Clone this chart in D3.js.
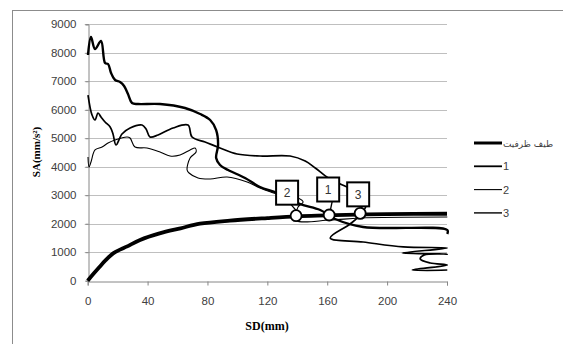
<!DOCTYPE html>
<html>
<head>
<meta charset="utf-8">
<script src="https://cdn.jsdelivr.net/npm/d3@7"></script>
<style>
  body{margin:0;background:#fff}
  svg{display:block}
</style>
</head>
<body>
<svg id="chart" width="563" height="344"></svg>
<script>
// axis ticks
const xTicks = [0, 40, 80, 120, 160, 200, 240];
const yTicks = [0, 1000, 2000, 3000, 4000, 5000, 6000, 7000, 8000, 9000];

// legend names
const seriesNames = ['طیف ظرفیت', '1', '2', '3'];

// capacity spectrum [SD, SA]
const capacity = [[0,0],[4,250],[8,490],[12,720],[17,960],[22,1100],[26,1195],[35,1430],[48,1660],
  [62,1840],[75,2000],[95,2110],[120,2200],[140,2260],[160,2290],[180,2320],[200,2335],[240,2350]];

// demand spectrum 1
const series1 = [[0.2,7922],[2.2,8553],[4.9,8132],[8.9,8413],[11.6,7640],[13.6,7606],[15.6,7290],
  [18.3,7044],[21.6,6974],[24.3,6834],[26.9,6553],[29.6,6237],[33.6,6202],[48.3,6202],[65,6062],
  [75.1,5851],[81.8,5640],[85.8,5289],[87.1,4763],[85.8,4306],[88.4,4061],[93.8,3886],[105.1,3605],
  [115.1,3289],[126.5,3078],[141.9,2692],[155.3,2482],[165.3,2166],[184,1885],[240.2,1780],[240.2,1640]];

// demand spectrum 2
const series2 = [[0.2,4342],[0.9,3991],[2.2,4166],[4.9,4588],[9.6,4693],[13.6,4833],[18.2,4939],
  [26.3,5044],[28.3,5009],[31.6,4693],[39.6,4658],[48.3,4517],[55,4377],[61.7,4412],[68.4,4588],
  [71.7,4658],[72.4,4517],[68.4,4307],[66.4,3886],[67.7,3780],[73.7,3605],[81.8,3570],[93.1,3640],
  [106.5,3465],[115.1,3254],[126.5,3043],[140.5,2903],[143.9,2762],[140.5,2587],[139.2,2130],
  [162,2130],[182,2201],[240.2,2236]];

// demand spectrum 3
const series3 = [[0.2,6518],[2.9,5816],[4.9,5640],[6.9,5886],[8.9,5746],[11.6,5570],[15,5395],
  [16.9,5149],[18.9,4763],[22.9,5149],[28.3,5360],[36.3,5465],[39,5325],[41.6,5044],[47,5114],
  [57,5360],[67,5465],[69.7,5044],[78.4,4868],[88.4,4658],[99.8,4447],[115.1,4377],[135.2,4377],
  [145.3,4201],[152,3956],[160.7,3605],[168.7,3394],[176.7,3184],[186,2692],[182.7,2341],
  [175.3,1991],[162,1500],[184,1359],[210.8,1184],[240.2,1148],[210.1,972],[240.2,937],
  [224.8,902],[222.1,762],[228.8,621],[240.2,551],[216.8,376],[240.2,376]];

// performance points
const pointLabels = ['2', '1', '3'];
const pointSD = [139.2, 161.3, 182];
const pointSA = [2282, 2306, 2364];

const svg = d3.select('#chart');
const margin = { top: 24.3, left: 87.7, right: 116, bottom: 63.3 };
const W = 563, H = 344;

const x = d3.scaleLinear().domain([0, 240]).range([margin.left, W - margin.right]);
const y = d3.scaleLinear().domain([0, 9000]).range([H - margin.bottom, margin.top]);

// chart border
svg.append('rect').attr('x', 12.5).attr('y', 10.5).attr('width', 600).attr('height', 400)
  .attr('fill', 'none').attr('stroke', '#8c8c8c');

// grid
svg.append('g').selectAll('line').data(yTicks.slice(1)).enter().append('line')
  .attr('x1', x(0) - 3).attr('x2', x(240))
  .attr('y1', d => Math.round(y(d)) + 0.5).attr('y2', d => Math.round(y(d)) + 0.5)
  .attr('stroke', '#bfbfbf');

// axes
const yAxis = svg.append('g').attr('transform', `translate(${Math.round(x(0)) + 0.5},0)`)
  .call(d3.axisLeft(y).tickValues(yTicks).tickSize(3).tickPadding(9).tickFormat(d3.format('d')));
const xAxis = svg.append('g').attr('transform', `translate(0,${Math.round(y(0)) + 0.5})`)
  .call(d3.axisBottom(x).tickValues(xTicks).tickSize(4).tickPadding(11).tickFormat(d3.format('d')));
[xAxis, yAxis].forEach(a => {
  a.selectAll('.domain').attr('stroke', '#868686');
  a.selectAll('line').attr('stroke', '#868686');
  a.selectAll('text').attr('fill', '#404040')
    .style('font-family', '"Liberation Sans", Arial, sans-serif').style('font-size', '11.5px');
});

// axis titles
svg.append('text').attr('transform', 'translate(40,152) rotate(-90)').attr('text-anchor', 'middle')
  .style('font-family', '"Liberation Serif", serif').style('font-weight', 'bold').style('font-size', '11px')
  .text('SA(mm/s²)');
svg.append('text').attr('x', 267).attr('y', 330).attr('text-anchor', 'middle')
  .style('font-family', '"Liberation Serif", serif').style('font-weight', 'bold').style('font-size', '12px')
  .text('SD(mm)');

const line = d3.line().x(d => x(d[0])).y(d => y(d[1])).curve(d3.curveCatmullRom.alpha(0.5));
const widths = [3.8, 2.4, 1.1, 1.7];
const all = [capacity, series1, series2, series3];

[series2, series3, series1, capacity].forEach(s => {
  svg.append('path').datum(s).attr('d', line).attr('fill', 'none')
    .attr('stroke', '#000').attr('stroke-width', widths[all.indexOf(s)])
    .attr('stroke-linejoin', 'round');
});

// performance point callouts
const boxOff = [[-9, -23], [-1, -25.5], [-2, -19]];
const boxW = 22, boxH = 24;
pointLabels.forEach((lab, i) => {
  const cx = x(pointSD[i]), cy = y(pointSA[i]);
  const bx = cx + boxOff[i][0], by = cy + boxOff[i][1];
  svg.append('line').attr('x1', bx + 4).attr('y1', by + boxH / 2)
    .attr('x2', cx + 1).attr('y2', cy - 4).attr('stroke', '#000').attr('stroke-width', 1.3);
  svg.append('circle').attr('cx', cx).attr('cy', cy).attr('r', 5.5)
    .attr('fill', '#fff').attr('stroke', '#000').attr('stroke-width', 1.8);
  svg.append('rect').attr('x', bx - boxW / 2).attr('y', by - boxH / 2)
    .attr('width', boxW).attr('height', boxH)
    .attr('fill', '#fff').attr('stroke', '#000').attr('stroke-width', 2);
  svg.append('text').attr('x', bx).attr('y', by + 4.5).attr('text-anchor', 'middle')
    .attr('fill', '#333').style('font-family', '"Liberation Sans", Arial, sans-serif')
    .style('font-size', '12px').text(lab);
});

// legend
const leg = svg.append('g').attr('transform', 'translate(474,143)');
seriesNames.forEach((name, i) => {
  const gy = i * 23.3;
  leg.append('line').attr('x1', 0).attr('x2', 28).attr('y1', gy).attr('y2', gy)
    .attr('stroke', '#000').attr('stroke-width', i === 0 ? 3 : [0, 1.8, 1.1, 1.4][i]);
  leg.append('text').attr('x', 29).attr('y', gy + 4)
    .attr('fill', '#404040').style('font-size', i === 0 ? '9px' : '11px')
    .style('font-family', i === 0 ? '"DejaVu Sans", sans-serif' : '"Liberation Sans", Arial, sans-serif')
    .text(name);
});
</script>
</body>
</html>
